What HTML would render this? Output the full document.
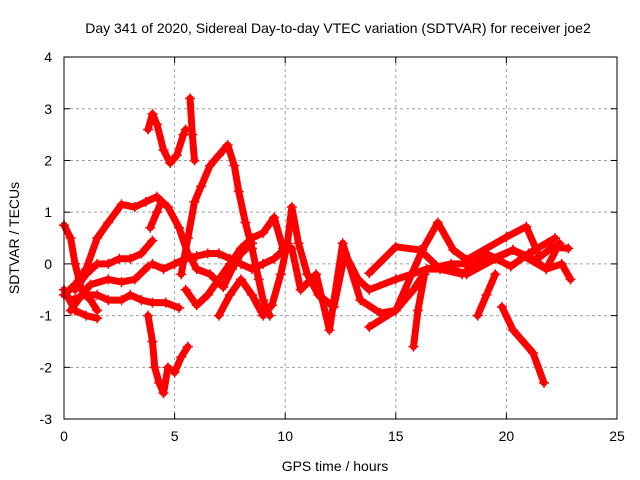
<!DOCTYPE html>
<html><head><meta charset="utf-8"><style>
body{margin:0;background:#fff}
svg{display:block;font-family:"Liberation Sans",sans-serif}
</style></head><body>
<svg id="chart" width="640" height="480">
<text x="338" y="33" font-size="14" text-anchor="middle">Day 341 of 2020, Sidereal Day-to-day VTEC variation (SDTVAR) for receiver joe2</text>
<text x="335" y="471" font-size="14" text-anchor="middle">GPS time / hours</text>
<text x="19" y="238" font-size="14" text-anchor="middle" transform="rotate(-90 19 238)">SDTVAR / TECUs</text>
<g id="grid"></g><g id="ticks"></g><g id="marks"></g>
<rect x="64" y="57" width="553" height="362" fill="none" stroke="#000" stroke-width="1"/>
</svg>
<script>
const xTicks=[0,5,10,15,20,25];
const yTicks=[-3,-2,-1,0,1,2,3,4];
const track1=[[0,-0.6],[0.5,-0.4],[1,-0.1],[1.5,0.5],[2,0.8],[2.6,1.15],[3.2,1.1],[3.7,1.2],[4.2,1.3],[4.7,1.1],[5.2,0.7],[5.6,0.2],[6,-0.1],[6.6,-0.2],[7.2,-0.45],[7.6,-0.1],[8,0.2],[8.5,0.4]];
const track2=[[0,-0.5],[0.5,-0.9],[1,-1.0],[1.5,-1.05]];
const track3=[[0,0.75],[0.3,0.5],[0.5,0],[0.8,-0.5],[1.2,-0.7],[1.5,-0.9]];
const track4=[[0.5,-0.5],[1,-0.2],[1.5,0],[2,0],[2.5,0.1],[3,0.1],[3.5,0.2],[4,0.45]];
const track5=[[0.3,-0.7],[1,-0.6],[1.5,-0.6],[2,-0.7],[2.6,-0.7],[3,-0.6],[3.5,-0.7],[4,-0.75],[4.6,-0.75],[5.2,-0.85]];
const track6=[[0.3,-0.9],[0.8,-0.6],[1.2,-0.4],[2,-0.3],[2.6,-0.35],[3.2,-0.3],[3.8,-0.05]];
const track7=[[3.8,2.6],[4,2.9],[4.2,2.7],[4.5,2.2],[4.8,1.95],[5.1,2.1],[5.4,2.5],[5.5,2.6]];
const track8=[[3.8,-1.0],[4,-1.5],[4.1,-2.0],[4.3,-2.3],[4.5,-2.5],[4.7,-2.0],[5,-2.1],[5.3,-1.8],[5.6,-1.6]];
const track9=[[3.9,0.7],[4.2,1.0],[4.4,1.2]];
const track10=[[5.3,-0.2],[5.6,0.5],[5.9,1.2],[6.2,1.5],[6.6,1.9],[7,2.1],[7.4,2.3],[7.7,1.9],[7.9,1.4],[8.2,0.8],[8.5,0.3],[8.8,-0.3],[9,-0.7],[9.3,-1.0]];
const track11=[[5.7,3.2],[5.8,2.5],[5.9,2.0]];
const track12=[[4,0],[4.5,-0.1],[5,0],[5.5,0.1],[6,0.15],[6.5,0.2],[7,0.2],[7.5,0.1],[8,0],[8.5,-0.1],[9,0],[9.5,0.1],[10,0.3],[10.3,0.3],[10.7,-0.5],[11.4,-0.2],[12,-1.28],[12.6,0.4],[13.4,-0.7],[14.3,-0.95],[15,-0.9],[16.2,0.27],[16.9,0.8],[17.6,0.27],[18.2,0.08],[20,0.52],[20.9,0.72],[21.5,0.13],[22.1,0.33],[22.8,0.3]];
const track13=[[5.5,-0.5],[6,-0.8],[6.5,-0.6],[7,-0.3],[7.5,0],[8,0.3],[8.5,0.5],[9,0.6],[9.5,0.9],[9.9,0.3]];
const track14=[[7,-1.0],[7.5,-0.6],[8,-0.3],[8.5,-0.6],[9,-1.0],[9.4,-0.8],[9.8,-0.2],[10.1,0.4],[10.3,1.1],[10.6,0.4],[11,-0.2],[11.5,-0.6],[12.2,-0.83],[12.7,0.2],[13.3,-0.3],[13.8,-0.5],[15,-0.3],[16.4,-0.1],[17.5,-0.1],[18.2,-0.2],[19.5,0.1],[20.3,0.27],[21.8,-0.1],[22.5,0],[22.9,-0.3]];
const track15=[[13.8,-1.22],[15,-0.9],[15.8,-0.5],[16.4,-0.1],[17.5,0],[18.8,0],[20.3,0.27],[21.2,0.1],[21.8,-0.1],[22.4,0.4]];
const track16=[[13.8,-0.18],[15,0.33],[16.1,0.27],[17,-0.1],[18,-0.2],[19.1,0.2],[20.2,-0.05],[21,0.2],[22.2,0.5]];
const track17=[[19.8,-0.83],[20.3,-1.28],[21.2,-1.72],[21.7,-2.3]];
const track18=[[15.8,-1.6],[16,-0.9],[16.3,-0.2]];
const track19=[[18.7,-1.0],[19.1,-0.6],[19.5,-0.2]];
const tracks=[track1,track2,track3,track4,track5,track6,track7,track8,track9,track10,track11,track12,track13,track14,track15,track16,track17,track18,track19];
const X=h=>64+h*(553/25);
const Y=v=>263.9-v*(362/7);
const NS='http://www.w3.org/2000/svg';
const grid=document.getElementById('grid'),ticks=document.getElementById('ticks'),marks=document.getElementById('marks');
function mk(tag,attrs,parent){const e=document.createElementNS(NS,tag);for(const k in attrs)e.setAttribute(k,attrs[k]);parent.appendChild(e);return e;}
xTicks.forEach(t=>{const x=X(t);
 if(t>0&&t<25){const l=mk('line',{x1:x,x2:x,y1:57,y2:419,stroke:'#a0a0a0','stroke-dasharray':'3,3'},grid);
 
 }
 mk('line',{x1:x,x2:x,y1:419,y2:413,stroke:'#000'},ticks);mk('line',{x1:x,x2:x,y1:57,y2:63,stroke:'#000'},ticks);
 const tx=mk('text',{x:x,y:441,'font-size':14,'text-anchor':'middle'},ticks);tx.textContent=t;
 
 });
yTicks.forEach(t=>{const y=Y(t);
 if(t>-3&&t<4){const l=mk('line',{x1:64,x2:617,y1:y,y2:y,stroke:'#a0a0a0','stroke-dasharray':'3,3'},grid);
 
 }
 mk('line',{x1:64,x2:70,y1:y,y2:y,stroke:'#000'},ticks);mk('line',{x1:617,x2:611,y1:y,y2:y,stroke:'#000'},ticks);
 const tx=mk('text',{x:52,y:y+5,'font-size':14,'text-anchor':'end'},ticks);tx.textContent=t;
 
 });
tracks.forEach((tr,i)=>{
 const p=mk('polyline',{points:tr.map(d=>X(d[0])+','+Y(d[1])).join(' '),fill:'none',stroke:'#ff0000','stroke-width':7,'stroke-linejoin':'round','stroke-linecap':'round'},marks);
 
 
 tr.forEach(d=>{const x=X(d[0]),y=Y(d[1]);
  const m=mk('path',{d:`M${x-5},${y}H${x+5}M${x},${y-5}V${y+5}`,stroke:'#ff0000','stroke-width':1.5},marks);
  
  });
});
</script>
</body></html>
